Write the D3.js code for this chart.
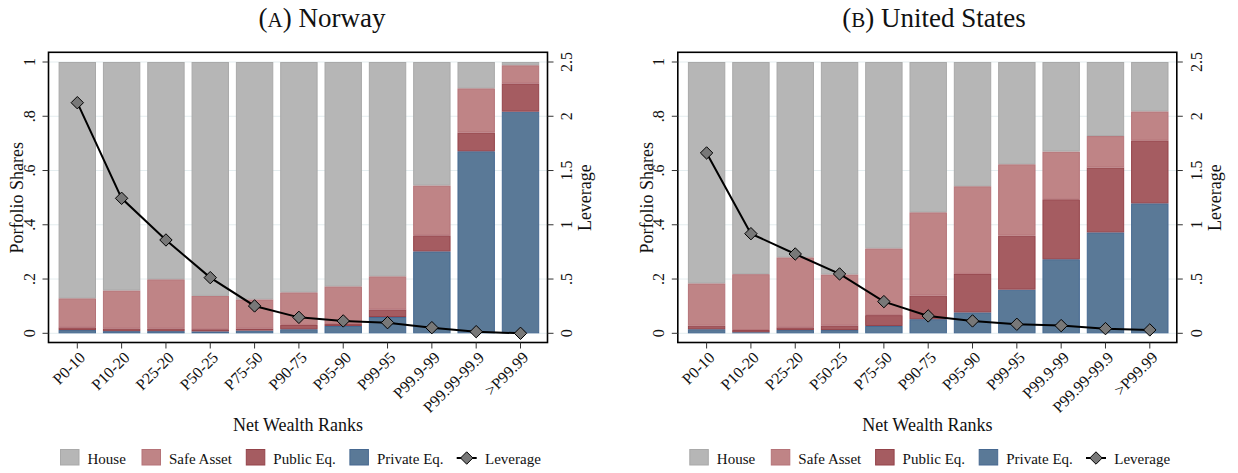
<!DOCTYPE html>
<html>
<head>
<meta charset="utf-8">
<script src="https://cdn.jsdelivr.net/npm/d3@7"></script>
<style>
  body { margin: 0; background: #fff; }
  svg { display: block; font-family: "Liberation Serif", "Times New Roman", serif; }
</style>
</head>
<body>
<svg id="chart" width="1238" height="473"></svg>
<script>
// wealth rank groups
const ranks = ["P0-10", "P10-20", "P25-20", "P50-25", "P75-50", "P90-75", "P95-90", "P99-95", "P99.9-99", "P99.99-99.9", ">P99.99"];

// Norway: shares (bottom to top: private, public, safe, house)
const noPrivate = [0.012, 0.008, 0.008, 0.007, 0.010, 0.015, 0.027, 0.060, 0.302, 0.671, 0.817];
const noPublic  = [0.010, 0.010, 0.010, 0.008, 0.008, 0.016, 0.007, 0.028, 0.059, 0.069, 0.104];
const noSafe    = [0.107, 0.140, 0.181, 0.123, 0.107, 0.120, 0.139, 0.122, 0.184, 0.163, 0.067];
const noLeverage = [2.125, 1.244, 0.86, 0.513, 0.252, 0.147, 0.114, 0.098, 0.052, 0.015, 0.0];

// United States
const usPrivate = [0.015, 0.004, 0.012, 0.012, 0.027, 0.052, 0.077, 0.161, 0.273, 0.372, 0.479];
const usPublic  = [0.013, 0.008, 0.010, 0.017, 0.040, 0.087, 0.142, 0.199, 0.221, 0.239, 0.232];
const usSafe    = [0.156, 0.206, 0.258, 0.188, 0.246, 0.307, 0.323, 0.263, 0.176, 0.116, 0.107];
const usLeverage = [1.662, 0.918, 0.731, 0.547, 0.292, 0.160, 0.114, 0.083, 0.071, 0.043, 0.031];

const shareTicks = [0, 0.2, 0.4, 0.6, 0.8, 1];
const shareTickLabels = ["0", ".2", ".4", ".6", ".8", "1"];
const levTicks = [0, 0.5, 1, 1.5, 2, 2.5];
const levTickLabels = ["0", ".5", "1", "1.5", "2", "2.5"];

const seriesNames = ["Private Eq.", "Public Eq.", "Safe Asset", "House"];
const fills   = { "House": "#b6b6b6", "Safe Asset": "#bf8486", "Public Eq.": "#a55c61", "Private Eq.": "#5a7997" };
const strokes = { "House": "#a9a9a9", "Safe Asset": "#b57378", "Public Eq.": "#94434a", "Private Eq.": "#466991" };

const svg = d3.select("#chart");

function drawPanel(dx, title, titleX, priv, pub, safe, lev) {
  const g = svg.append("g").attr("transform", "translate(" + dx + ",0)");
  const left = 48.5, right = 547.5, top = 52.3, bottom = 342.5;

  const x = d3.scalePoint().domain(ranks).range([77.3, 520.5]);
  const barW = 37.4;
  const y = d3.scaleLinear().domain([0, 1]).range([333.3, 62]);
  const yLev = d3.scaleLinear().domain([0, 2.5]).range([333.3, 62]);

  // grid
  g.selectAll(".grid").data(shareTicks).join("line")
    .attr("x1", left).attr("x2", right)
    .attr("y1", d => y(d)).attr("y2", d => y(d))
    .attr("stroke", "#e4edef").attr("stroke-width", 1);

  // stacked bars
  const rows = ranks.map((r, i) => ({
    rank: r,
    "Private Eq.": priv[i],
    "Public Eq.": pub[i],
    "Safe Asset": safe[i],
    "House": 1 - priv[i] - pub[i] - safe[i]
  }));
  const stacked = d3.stack().keys(seriesNames)(rows);

  g.selectAll(".layer").data(stacked).join("g")
    .attr("fill", d => fills[d.key])
    .attr("stroke", d => strokes[d.key])
    .selectAll("rect").data(d => d).join("rect")
      .attr("x", d => x(d.data.rank) - barW / 2 + 0.5)
      .attr("width", barW - 1)
      .attr("y", d => y(d[1]) + 0.5)
      .attr("height", d => Math.max(0, y(d[0]) - y(d[1]) - 1))
      .attr("stroke-width", 1);

  // leverage line
  const line = d3.line().x((d, i) => x(ranks[i])).y(d => yLev(d));
  g.append("path").datum(lev)
    .attr("d", line).attr("fill", "none")
    .attr("stroke", "#000").attr("stroke-width", 2);

  const diamond = d3.symbol().type(d3.symbolDiamond2).size(98);
  g.selectAll(".lev").data(lev).join("path")
    .attr("transform", (d, i) => "translate(" + x(ranks[i]) + "," + yLev(d) + ")")
    .attr("d", diamond)
    .attr("fill", "#787878").attr("stroke", "#000").attr("stroke-width", 1);

  // frame
  g.append("rect")
    .attr("x", left).attr("y", top)
    .attr("width", right - left).attr("height", bottom - top)
    .attr("fill", "none").attr("stroke", "#000").attr("stroke-width", 1.6);

  // left axis
  g.selectAll(".ytick").data(shareTicks).join("line")
    .attr("x1", left - 6).attr("x2", left)
    .attr("y1", d => y(d)).attr("y2", d => y(d))
    .attr("stroke", "#333");
  g.selectAll(".ylab").data(shareTicks).join("text")
    .attr("transform", d => "translate(" + 29.5 + "," + y(d) + ") rotate(-90)")
    .attr("text-anchor", "middle").attr("dy", "0.35em")
    .attr("font-size", 16).attr("fill", "#111")
    .text((d, i) => shareTickLabels[i]);
  g.append("text")
    .attr("transform", "translate(17," + ((62 + 333.3) / 2) + ") rotate(-90)")
    .attr("text-anchor", "middle").attr("dy", "0.35em")
    .attr("font-size", 18).attr("fill", "#111")
    .text("Porfolio Shares");

  // right axis
  g.selectAll(".rtick").data(levTicks).join("line")
    .attr("x1", right).attr("x2", right + 6)
    .attr("y1", d => yLev(d)).attr("y2", d => yLev(d))
    .attr("stroke", "#333");
  g.selectAll(".rlab").data(levTicks).join("text")
    .attr("transform", d => "translate(" + 566.7 + "," + yLev(d) + ") rotate(-90)")
    .attr("text-anchor", "middle").attr("dy", "0.35em")
    .attr("font-size", 16).attr("fill", "#111")
    .text((d, i) => levTickLabels[i]);
  g.append("text")
    .attr("transform", "translate(585," + ((62 + 333.3) / 2) + ") rotate(-90)")
    .attr("text-anchor", "middle").attr("dy", "0.35em")
    .attr("font-size", 18).attr("fill", "#111")
    .text("Leverage");

  // x axis
  g.selectAll(".xtick").data(ranks).join("line")
    .attr("x1", d => x(d)).attr("x2", d => x(d))
    .attr("y1", bottom).attr("y2", bottom + 6)
    .attr("stroke", "#333");
  g.selectAll(".xlab").data(ranks).join("text")
    .attr("transform", d => "translate(" + (x(d) + 5) + "," + (bottom + 12) + ") rotate(-45)")
    .attr("text-anchor", "end").attr("dy", "0.35em")
    .attr("font-size", 16).attr("fill", "#111")
    .text(d => d);
  g.append("text")
    .attr("x", (left + right) / 2).attr("y", 431)
    .attr("text-anchor", "middle")
    .attr("font-size", 18).attr("fill", "#111")
    .text("Net Wealth Ranks");

  // title, with small caps letter
  const t = svg.append("text")
    .attr("x", titleX).attr("y", 27)
    .attr("text-anchor", "middle")
    .attr("font-size", 27).attr("fill", "#111");
  t.append("tspan").text("(");
  t.append("tspan").attr("font-size", 21).text(title[0]);
  t.append("tspan").text(") " + title[1]);

  // legend
  const legendX = [60, 141.5, 245.8, 349.4];
  const legendKeys = ["House", "Safe Asset", "Public Eq.", "Private Eq."];
  legendKeys.forEach((k, i) => {
    g.append("rect")
      .attr("x", legendX[i] + 0.5).attr("y", 449.5)
      .attr("width", 18.5).attr("height", 15.5)
      .attr("fill", fills[k]).attr("stroke", strokes[k]);
    g.append("text")
      .attr("x", legendX[i] + 27.5).attr("y", 464)
      .attr("font-size", 15).attr("fill", "#111")
      .text(k);
  });
  g.append("line")
    .attr("x1", 456.7).attr("x2", 476.7)
    .attr("y1", 458).attr("y2", 458)
    .attr("stroke", "#000").attr("stroke-width", 2);
  g.append("path")
    .attr("transform", "translate(466.7,458)")
    .attr("d", diamond)
    .attr("fill", "#787878").attr("stroke", "#000");
  g.append("text")
    .attr("x", 485).attr("y", 464)
    .attr("font-size", 15).attr("fill", "#111")
    .text("Leverage");
}

drawPanel(0, ["A", "Norway"], 322, noPrivate, noPublic, noSafe, noLeverage);
drawPanel(629.3, ["B", "United States"], 934, usPrivate, usPublic, usSafe, usLeverage);
</script>
</body>
</html>
